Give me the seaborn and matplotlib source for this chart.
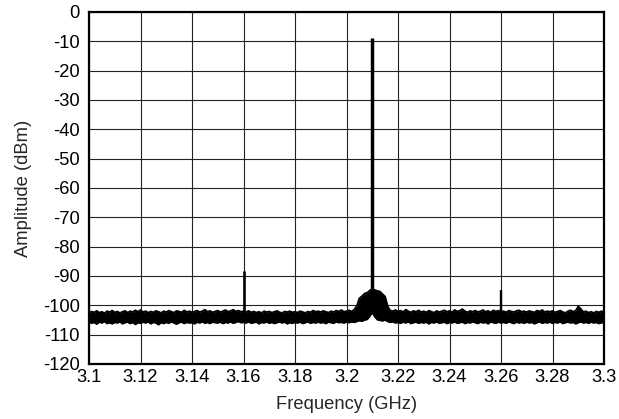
import numpy as np
import pandas as pd
import matplotlib
matplotlib.use("Agg")
import matplotlib.pyplot as plt
import seaborn as sns

# frequency grid of the trace (GHz), 1 MHz steps
freq_ghz = np.round(np.arange(3.100, 3.3005, 0.001), 3)

# upper edge of the noise trace (dBm)
upper_dbm = [
    -102.6, -102.1, -102.4, -101.9, -102.5, -102.2, -102.7, -102.0, -102.3, -101.8,
    -102.4, -102.1, -102.6, -102.2, -101.9, -102.5, -102.0, -102.3, -101.7, -102.2,
    -101.6, -102.3, -102.0, -102.5, -102.1, -102.4, -101.9, -102.2, -102.6, -102.0,
    -102.3, -101.8, -102.2, -102.5, -101.9, -102.1, -102.4, -101.7, -102.3, -102.0,
    -102.4, -102.1, -101.8, -102.3, -102.0, -101.5, -102.2, -101.9, -102.4, -102.1,
    -101.8, -102.3, -102.0, -101.6, -102.2, -101.9, -101.5, -102.1, -101.8, -102.2,
    -102.0, -102.3, -101.9, -102.4, -102.1, -102.5, -102.2, -102.6, -102.0, -102.3,
    -102.1, -102.5, -102.2, -101.9, -102.4, -102.6, -102.1, -102.3, -102.0, -102.4,
    -102.2, -102.5, -102.0, -102.3, -102.6, -102.1, -102.4, -101.8, -102.2, -102.0,
    -102.3, -101.9, -102.2, -102.5, -102.0, -102.3, -101.8, -102.1, -101.6, -102.2,
    -102.0, -101.7, -102.1, -101.5, -100.2, -97.6, -96.9, -96.0, -95.7, -95.0,
    -94.3, -94.8, -95.1, -95.3, -96.2, -97.0, -100.4, -101.8, -102.0, -101.6,
    -102.1, -101.8, -102.3, -101.5, -102.0, -102.4, -101.9, -102.2, -101.7, -102.3,
    -102.0, -102.4, -101.8, -102.2, -102.5, -101.9, -102.3, -102.0, -101.7, -102.2,
    -101.9, -102.3, -101.6, -102.1, -101.8, -101.3, -102.0, -102.4, -101.9, -102.2,
    -101.8, -102.3, -102.0, -101.6, -102.2, -101.9, -102.4, -101.7, -102.1, -101.8,
    -102.2, -102.0, -102.4, -101.8, -102.1, -102.3, -101.9, -101.7, -102.2, -102.0,
    -102.3, -101.9, -102.2, -102.4, -101.8, -102.1, -101.6, -102.3, -102.0, -102.2,
    -101.9, -102.4, -102.1, -101.8, -102.3, -102.6, -102.0, -101.7, -102.2, -101.8,
    -100.4, -101.2, -102.3, -102.0, -102.5, -102.2, -102.6, -102.1, -102.4, -102.0,
    -102.3,
]

# lower edge of the noise trace (dBm)
lower_dbm = [
    -105.6, -106.1, -105.8, -106.4, -105.7, -106.0, -105.5, -106.2, -105.9, -106.3,
    -105.8, -106.0, -105.6, -106.3, -105.9, -105.7, -106.2, -105.8, -106.5, -105.9,
    -106.1, -105.7, -106.0, -105.6, -106.3, -105.8, -106.0, -106.6, -105.9, -106.2,
    -105.8, -106.1, -105.6, -106.0, -106.4, -105.9, -105.7, -106.2, -105.8, -106.0,
    -105.9, -106.3, -105.7, -106.0, -105.6, -106.1, -105.8, -106.2, -105.7, -105.9,
    -106.0, -105.7, -106.2, -105.8, -106.0, -105.6, -106.1, -105.8, -105.5, -105.9,
    -105.8, -106.0, -105.6, -106.1, -105.9, -105.7, -106.3, -105.8, -106.0, -105.6,
    -106.1, -105.8, -106.2, -105.9, -105.6, -106.0, -105.7, -106.3, -105.9, -106.1,
    -105.8, -106.0, -105.7, -106.2, -105.9, -105.6, -106.1, -105.8, -106.0, -105.7,
    -106.0, -105.8, -106.2, -105.7, -105.9, -106.1, -105.6, -105.9, -105.8, -106.0,
    -105.7, -105.9, -105.6, -105.8, -105.5, -105.2, -105.4, -105.0, -104.8, -103.8,
    -102.3, -103.9, -104.9, -105.1, -105.3, -105.0, -105.5, -105.8, -105.6, -106.0,
    -105.8, -106.1, -105.7, -106.0, -105.6, -106.2, -105.9, -105.7, -106.1, -105.8,
    -106.0, -105.7, -106.3, -105.8, -106.0, -105.6, -106.1, -105.9, -105.7, -106.2,
    -105.8, -106.0, -105.6, -106.1, -105.9, -105.7, -106.2, -105.8, -106.0, -105.6,
    -105.9, -106.2, -105.7, -106.0, -105.8, -106.3, -105.6, -105.9, -106.1, -105.7,
    -106.0, -105.8, -106.1, -105.6, -105.9, -106.2, -105.7, -106.0, -105.8, -106.1,
    -105.7, -106.0, -105.8, -106.3, -105.9, -105.6, -106.1, -105.8, -106.0, -105.7,
    -106.1, -105.8, -106.0, -105.6, -106.2, -105.9, -105.7, -106.0, -105.8, -106.3,
    -105.9, -105.6, -106.0, -105.8, -106.1, -105.7, -106.0, -105.8, -106.2, -105.9,
    -106.0,
]

# discrete tones: carrier and spurs
tone_ghz = [3.16, 3.21, 3.26, 3.29]
tone_dbm = [-88.3, -8.8, -94.7, -100.3]
tone_lw = [1.9, 2.5, 1.7, 1.2]

x_ticks = [3.1, 3.12, 3.14, 3.16, 3.18, 3.2, 3.22, 3.24, 3.26, 3.28, 3.3]
x_labels = ["3.1", "3.12", "3.14", "3.16", "3.18", "3.2", "3.22", "3.24", "3.26", "3.28", "3.3"]
y_ticks = list(range(-120, 1, 10))

trace = pd.DataFrame({"freq": freq_ghz, "upper": upper_dbm, "lower": lower_dbm})

sns.set_style("white")
plt.rcParams["font.family"] = ["Liberation Sans", "DejaVu Sans"]
plt.rcParams["axes.unicode_minus"] = False

fig = plt.figure(figsize=(6.19, 4.19), dpi=100)
ax = fig.add_axes([0.1438, 0.1313, 0.832, 0.8401])

ax.fill_between(trace["freq"], trace["lower"], trace["upper"], color="black", lw=0)
sns.lineplot(data=trace, x="freq", y="upper", color="black", lw=1.3, ax=ax)
sns.lineplot(data=trace, x="freq", y="lower", color="black", lw=1.3, ax=ax)
ax.vlines(tone_ghz, -103, tone_dbm, colors="black", linewidths=tone_lw)

ax.set_xlim(3.1, 3.3)
ax.set_ylim(-120, 0)
ax.set_xticks(x_ticks)
ax.set_xticklabels(x_labels)
ax.set_yticks(y_ticks)
ax.grid(True, color="#222222", lw=0.8)
ax.set_axisbelow(True)
for sp in ax.spines.values():
    sp.set_color("black")
    sp.set_linewidth(1.6)
ax.tick_params(axis="y", length=0, pad=6.5, labelsize=13.2, colors="black")
ax.tick_params(axis="x", length=0, pad=3.5, labelsize=13.2, colors="black")
ax.set_xlabel("Frequency (GHz)", fontsize=13.2, labelpad=7.5)
ax.set_ylabel("Amplitude (dBm)", fontsize=13.2, labelpad=8)

fig.savefig("out.png", dpi=100)
